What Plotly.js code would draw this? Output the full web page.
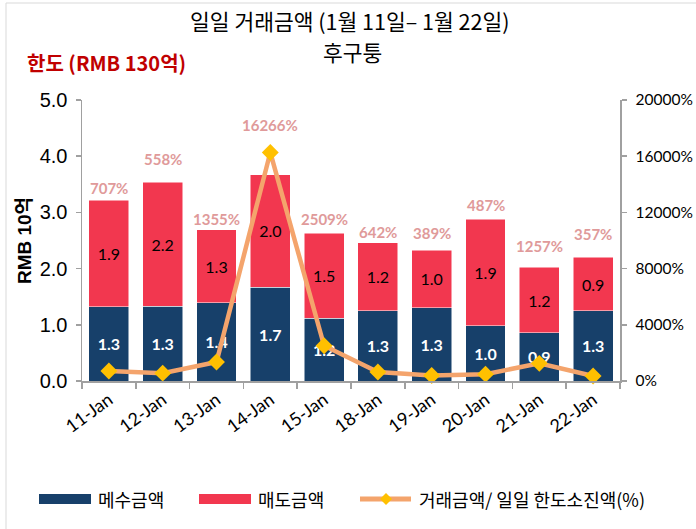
<!DOCTYPE html>
<html>
<head>
<meta charset="utf-8">
<script src="https://cdn.plot.ly/plotly-3.0.1.min.js"></script>
<style>html,body{margin:0;padding:0;background:#fff}#chart{width:696px;height:529px}</style>
</head>
<body>
<div id="chart"></div>
<script>
// ---- data ----
const categories = ["11-Jan","12-Jan","13-Jan","14-Jan","15-Jan","18-Jan","19-Jan","20-Jan","21-Jan","22-Jan"];
const buyValues  = [1.32, 1.33, 1.39, 1.67, 1.12, 1.25, 1.30, 0.98, 0.86, 1.25];
const sellValues = [1.90, 2.21, 1.30, 2.00, 1.51, 1.21, 1.03, 1.90, 1.16, 0.95];
const buyLabels  = ["1.3","1.3","1.4","1.7","1.2","1.3","1.3","1.0","0.9","1.3"];
const sellLabels = ["1.9","2.2","1.3","2.0","1.5","1.2","1.0","1.9","1.2","0.9"];
const usagePct   = [707, 558, 1355, 16266, 2509, 642, 389, 487, 1257, 357];
const seriesNames = ["메수금액", "매도금액", "거래금액/ 일일 한도소진액(%)"];
const titleLines = ["일일 거래금액 (1월 11일– 1월 22일)", "후구퉁"];
const limitLabel = "한도 (RMB 130억)";
const yTitle = "RMB 10억";

// ---- colours / fonts / layout helpers (styling only) ----
const colBuy = "#17406A", colSell = "#F2374F", colLine = "#F4A46C", colMarker = "#FFC000";
const pctLabelShift = [12, 23, 11, 50, 14, 11, 17, 14, 21, 23];
const calibri = "Lato, 'Noto Sans', sans-serif";
const kr = "'Noto Sans CJK KR', 'Noto Sans', sans-serif";
const arialKr = "'Liberation Sans', Arial, 'Noto Sans CJK KR', sans-serif";

const W = 696, H = 529, L = 82, R = 76, T = 100, B = 148;
const pw = W - L - R, ph = H - T - B;
const px = (x) => (x - L) / pw;          // pixel x -> paper x
const py = (y) => (T + ph - y) / ph;     // pixel y -> paper y

const traces = [
  {
    type: "bar", name: seriesNames[0], x: categories, y: buyValues,
    text: buyLabels, textposition: "inside", insidetextanchor: "middle", textangle: 0,
    textfont: {family: calibri, size: 16, color: "#ffffff", weight: "bold"},
    marker: {color: colBuy, line: {color: "#ffffff", width: 0.5}},
    hoverinfo: "skip", showlegend: false
  },
  {
    type: "bar", name: seriesNames[1], x: categories, y: sellValues,
    text: sellLabels, textposition: "inside", insidetextanchor: "middle", textangle: 0,
    textfont: {family: calibri, size: 16, color: "#000000"},
    marker: {color: colSell, line: {color: "#ffffff", width: 0.5}},
    hoverinfo: "skip", showlegend: false
  },
  {
    type: "scatter", mode: "lines+markers", name: seriesNames[2], x: categories, y: usagePct,
    yaxis: "y2",
    line: {color: colLine, width: 4.5},
    marker: {symbol: "diamond", size: 13, color: colMarker},
    hoverinfo: "skip", cliponaxis: false, showlegend: false
  }
];

const annotations = categories.map((c, i) => ({
  x: c, y: buyValues[i] + sellValues[i], xref: "x", yref: "y",
  text: usagePct[i] + "%", showarrow: false, yanchor: "middle", yshift: pctLabelShift[i],
  font: {family: calibri, size: 15, color: "#E09A9A", weight: "bold"}
}));

function addText(text, x, y, font, anchor) {
  annotations.push({
    xref: "paper", yref: "paper", x: px(x), y: py(y), xanchor: anchor || "left", yanchor: "middle",
    text: text, showarrow: false, font: font
  });
}
addText(titleLines[0], 350, 20, {family: kr, size: 21.5, color: "#000000"}, "center");
addText(titleLines[1], 352, 51, {family: kr, size: 21.5, color: "#000000"}, "center");
addText("<b>" + limitLabel + "</b>", 25, 62, {family: kr, size: 20, color: "#C00000"}, "left");

// custom legend (wide swatches like the reference)
const legY = 499;
const legFont = {family: kr, size: 18, color: "#000000"};
addText(seriesNames[0], 96, legY, legFont);
addText(seriesNames[1], 256, legY, legFont);
addText(seriesNames[2], 417, legY, legFont);

const shapes = [
  {type: "line", xref: "paper", yref: "paper", x0: px(6), x1: px(6), y0: py(3), y1: py(H),
   line: {color: "#D9D9D9", width: 1}},
  {type: "line", xref: "paper", yref: "paper", x0: px(6), x1: px(W), y0: py(3), y1: py(3),
   line: {color: "#D9D9D9", width: 1}},
  {type: "rect", xref: "paper", yref: "paper", x0: px(39), x1: px(91), y0: py(legY + 5), y1: py(legY - 5),
   fillcolor: colBuy, line: {width: 0}},
  {type: "rect", xref: "paper", yref: "paper", x0: px(199), x1: px(251), y0: py(legY + 5), y1: py(legY - 5),
   fillcolor: colSell, line: {width: 0}},
  {type: "line", xref: "paper", yref: "paper", x0: px(360), x1: px(411), y0: py(legY), y1: py(legY),
   line: {color: colLine, width: 5}},
  {type: "path", xref: "paper", yref: "paper",
   path: `M ${px(386)},${py(legY - 6)} L ${px(392)},${py(legY)} L ${px(386)},${py(legY + 6)} L ${px(380)},${py(legY)} Z`,
   fillcolor: colMarker, line: {width: 0}}
];

const layout = {
  width: W, height: H,
  margin: {l: L, r: R, t: T, b: B, pad: 0},
  paper_bgcolor: "#ffffff", plot_bgcolor: "#ffffff",
  barmode: "stack", bargap: 0.26,
  showlegend: false,
  xaxis: {
    type: "category", range: [-0.5, 9.5], autorange: false, tickangle: -36,
    tickfont: {family: calibri, size: 18, color: "#000000"},
    showline: true, linecolor: "#A0A0A0", linewidth: 1.5,
    ticks: "outside", tickson: "boundaries", ticklen: 6, tickcolor: "#A0A0A0", tickwidth: 1.5,
    showgrid: false, zeroline: false, fixedrange: true
  },
  yaxis: {
    range: [0, 5], autorange: false, dtick: 1, tickformat: ".1f",
    tickfont: {family: "'Liberation Sans', Arial, sans-serif", size: 20, color: "#000000"},
    showline: true, linecolor: "#A0A0A0", linewidth: 1.5,
    ticks: "outside", ticklen: 5, tickcolor: "#A0A0A0", tickwidth: 1.5, ticklabelstandoff: 4,
    showgrid: false, zeroline: false,
    title: {text: "<b>" + yTitle + "</b>", font: {family: arialKr, size: 19, color: "#000000"}, standoff: 3},
    fixedrange: true
  },
  yaxis2: {
    overlaying: "y", side: "right", range: [0, 20000], autorange: false, dtick: 4000,
    ticksuffix: "%", tickformat: "d",
    tickfont: {family: calibri, size: 15.5, color: "#000000"},
    showline: true, linecolor: "#A0A0A0", linewidth: 1.5,
    ticks: "outside", ticklen: 5, tickcolor: "#A0A0A0", tickwidth: 1.5, ticklabelstandoff: 6,
    showgrid: false, zeroline: false, fixedrange: true
  },
  annotations: annotations,
  shapes: shapes
};

Plotly.newPlot("chart", traces, layout, {displayModeBar: false, staticPlot: true});
</script>
</body>
</html>
